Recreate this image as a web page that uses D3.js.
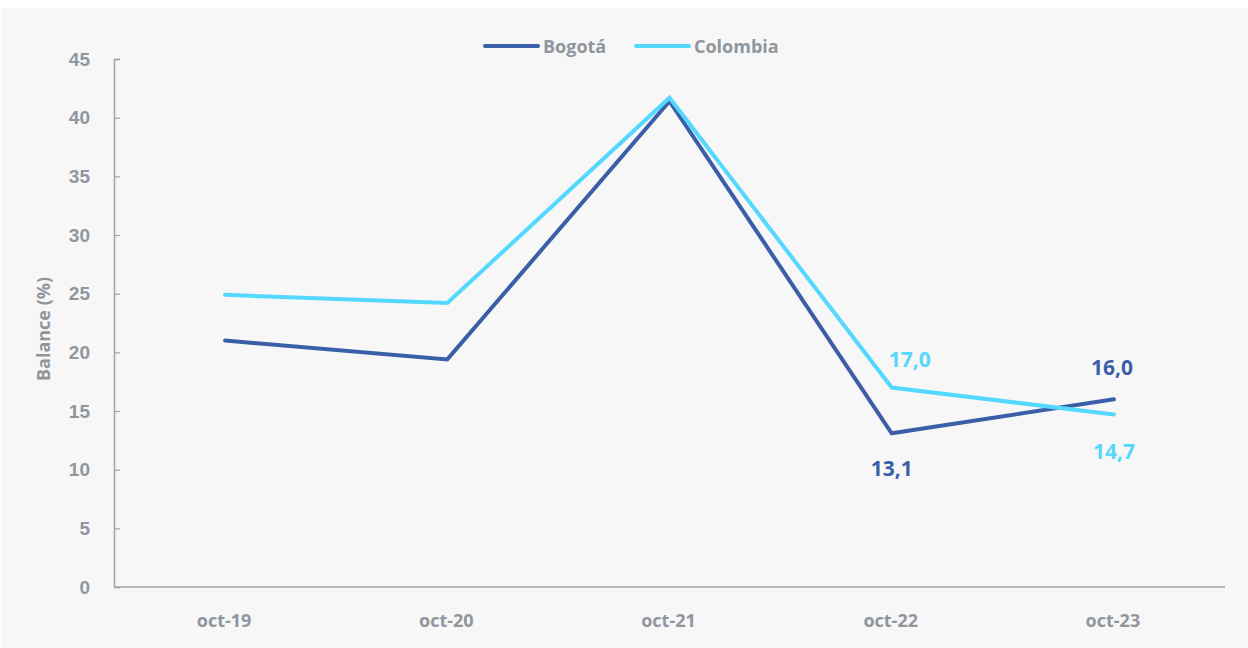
<!DOCTYPE html>
<html>
<head>
<meta charset="utf-8">
<script src="https://cdn.jsdelivr.net/npm/d3@7"></script>
<style>
  html, body { margin: 0; padding: 0; background: #fff; }
  svg { display: block; font-family: "Open Sans", Lato, sans-serif; }
</style>
</head>
<body>
<div id="chart"></div>
<script>
// Data
const categories = ["oct-19", "oct-20", "oct-21", "oct-22", "oct-23"];
const bogota = [21.0, 19.4, 41.4, 13.1, 16.0];
const colombia = [24.9, 24.2, 41.7, 17.0, 14.7];
const yTicks = [0, 5, 10, 15, 20, 25, 30, 35, 40, 45];

const series = [
  { name: "Bogotá", values: bogota, color: "#3a5fa8" },
  { name: "Colombia", values: colombia, color: "#55d8fd" },
];

const W = 1248, H = 648;
const margin = { top: 59, right: 23, bottom: 61, left: 114 };
const textColor = "#8f969d";
const axisColor = "#a0a5ab";

const svg = d3.select("#chart").append("svg").attr("width", W).attr("height", H);

// panel background
svg.append("rect").attr("x", 2).attr("y", 8).attr("width", W - 2).attr("height", H - 8).attr("fill", "#f7f7f7");

const x = d3.scaleBand().domain(categories).range([margin.left, W - margin.right]);
const y = d3.scaleLinear().domain([0, 45]).range([H - margin.bottom, margin.top]);
const cx = (c) => x(c) + x.bandwidth() / 2;

// y axis
const yAxis = svg.append("g")
  .attr("transform", `translate(${margin.left},0)`)
  .call(d3.axisRight(y).tickValues(yTicks).tickSize(6).tickFormat(d3.format("d")));
yAxis.select(".domain").attr("stroke", axisColor).attr("stroke-width", 1.5);
yAxis.selectAll(".tick line").attr("stroke", axisColor).attr("stroke-width", 1.2);
yAxis.selectAll(".tick text")
  .attr("x", -24).attr("text-anchor", "end")
  .attr("fill", textColor).style("font-size", "19px").style("font-weight", "700");

// x axis line
svg.append("line")
  .attr("x1", margin.left).attr("x2", W - margin.right)
  .attr("y1", y(0)).attr("y2", y(0))
  .attr("stroke", axisColor).attr("stroke-width", 1.5);

// x labels
svg.selectAll(".xlab").data(categories).enter().append("text")
  .attr("class", "xlab")
  .attr("x", (d) => cx(d) - 1).attr("y", 627)
  .attr("text-anchor", "middle")
  .attr("fill", textColor).style("font-size", "18px").style("font-weight", "700")
  .text((d) => d);

// axis title
svg.append("text")
  .attr("transform", `translate(50,${(y(0) + y(45)) / 2 + 6}) rotate(-90)`)
  .attr("text-anchor", "middle")
  .attr("fill", textColor).style("font-size", "18px").style("font-weight", "700")
  .text("Balance (%)");

// lines
const line = d3.line().x((d, i) => cx(categories[i])).y((d) => y(d));
series.forEach((s) => {
  svg.append("path")
    .attr("d", line(s.values))
    .attr("fill", "none")
    .attr("stroke", s.color)
    .attr("stroke-width", 4)
    .attr("stroke-linecap", "round")
    .attr("stroke-linejoin", "miter");
});

// data labels (last two points)
const fmt = (v) => v.toFixed(1).replace(".", ",");
const labels = [
  { s: 1, i: 3, dx: 18, dy: -21 },
  { s: 0, i: 3, dx: 0, dy: 43 },
  { s: 0, i: 4, dx: -2, dy: -24 },
  { s: 1, i: 4, dx: 0, dy: 44 },
];
labels.forEach((l) => {
  const s = series[l.s];
  svg.append("text")
    .attr("x", cx(categories[l.i]) + l.dx)
    .attr("y", y(s.values[l.i]) + l.dy)
    .attr("text-anchor", "middle")
    .attr("fill", s.color)
    .style("font-size", "21px").style("font-weight", "700")
    .text(fmt(s.values[l.i]));
});

// legend
const legend = svg.append("g").attr("transform", "translate(485,46)");
let lx = 0;
series.forEach((s) => {
  legend.append("line")
    .attr("x1", lx).attr("x2", lx + 53).attr("y1", 0).attr("y2", 0)
    .attr("stroke", s.color).attr("stroke-width", 4).attr("stroke-linecap", "round");
  legend.append("text")
    .attr("x", lx + 58).attr("y", 6.5)
    .attr("fill", textColor).style("font-size", "18px").style("font-weight", "700")
    .text(s.name);
  lx += 151;
});
</script>
</body>
</html>
